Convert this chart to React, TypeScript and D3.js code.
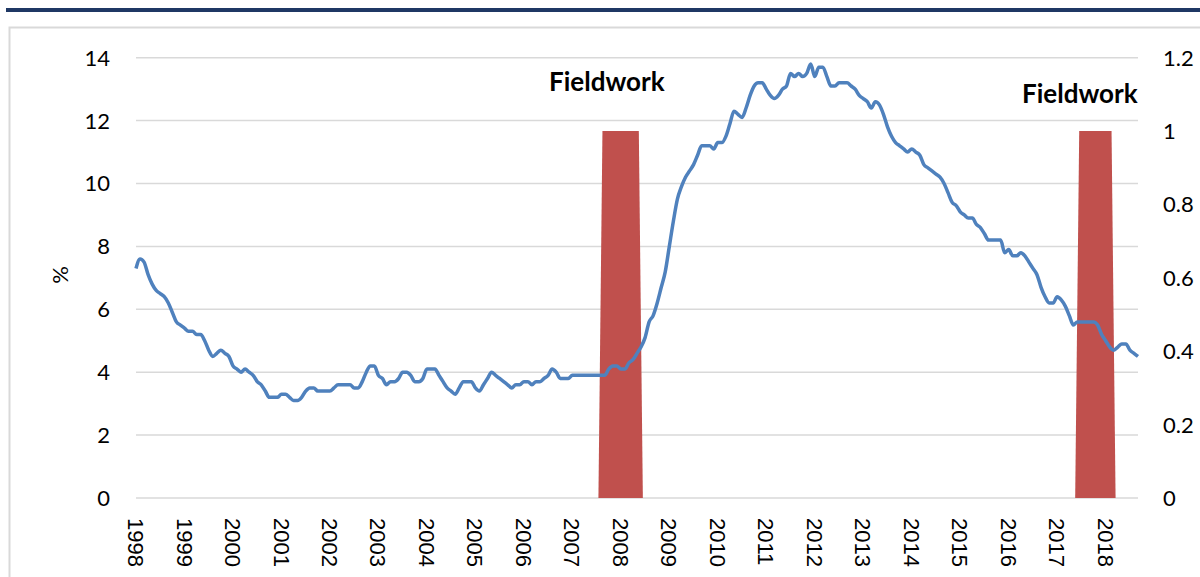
import React from "react";
import * as d3 from "d3";

// Monthly series, starting January 1998 (percent)
const startMonth = "1998-01";
const rateValues: number[] = [
  7.3, 7.6, 7.5, 7.1, 6.8, 6.6, 6.5, 6.4, 6.2, 5.9, 5.6, 5.5,
  5.4, 5.3, 5.3, 5.2, 5.2, 5.0, 4.7, 4.5, 4.6, 4.7, 4.6, 4.5,
  4.2, 4.1, 4.0, 4.1, 4.0, 3.9, 3.7, 3.6, 3.4, 3.2, 3.2, 3.2,
  3.3, 3.3, 3.2, 3.1, 3.1, 3.2, 3.4, 3.5, 3.5, 3.4, 3.4, 3.4,
  3.4, 3.5, 3.6, 3.6, 3.6, 3.6, 3.5, 3.5, 3.7, 4.0, 4.2, 4.2,
  3.9, 3.8, 3.6, 3.7, 3.7, 3.8, 4.0, 4.0, 3.9, 3.7, 3.7, 3.8,
  4.1, 4.1, 4.1, 3.9, 3.7, 3.5, 3.4, 3.3, 3.5, 3.7, 3.7, 3.7,
  3.5, 3.4, 3.6, 3.8, 4.0, 3.9, 3.8, 3.7, 3.6, 3.5, 3.6, 3.6,
  3.7, 3.7, 3.6, 3.7, 3.7, 3.8, 3.9, 4.1, 4.0, 3.8, 3.8, 3.8,
  3.9, 3.9, 3.9, 3.9, 3.9, 3.9, 3.9, 3.9, 3.9, 4.1, 4.2, 4.2,
  4.1, 4.1, 4.3, 4.4, 4.6, 4.8, 5.1, 5.6, 5.8, 6.2, 6.7, 7.2,
  8.0, 8.8, 9.5, 9.9, 10.2, 10.4, 10.6, 10.9, 11.2, 11.2, 11.2, 11.1,
  11.3, 11.3, 11.5, 11.9, 12.3, 12.2, 12.1, 12.4, 12.8, 13.1, 13.2, 13.2,
  13.0, 12.8, 12.7, 12.8, 13.0, 13.1, 13.5, 13.4, 13.5, 13.4, 13.5, 13.8,
  13.4, 13.7, 13.7, 13.4, 13.1, 13.1, 13.2, 13.2, 13.2, 13.1, 13.0, 12.8,
  12.7, 12.6, 12.4, 12.6, 12.5, 12.2, 11.8, 11.5, 11.3, 11.2, 11.1, 11.0,
  11.1, 11.0, 10.9, 10.6, 10.5, 10.4, 10.3, 10.2, 10.0, 9.7, 9.4, 9.3,
  9.1, 9.0, 8.9, 8.9, 8.7, 8.6, 8.4, 8.2, 8.2, 8.2, 8.2, 7.8,
  7.9, 7.7, 7.7, 7.8, 7.7, 7.5, 7.3, 7.1, 6.7, 6.4, 6.2, 6.2,
  6.4, 6.3, 6.1, 5.8, 5.5, 5.6, 5.6, 5.6, 5.6, 5.6, 5.5, 5.2,
  5.0, 4.8, 4.7, 4.8, 4.9, 4.9, 4.7, 4.6, 4.5,
];

// Fieldwork periods (secondary axis, value 1 while in the field)
const fieldworkStarts = ["2007-08", "2017-06"];
const fieldworkEnds = ["2008-05", "2018-02"];
const fieldworkLabels = ["Fieldwork", "Fieldwork"];

const yearLabels: string[] = [
  "1998", "1999", "2000", "2001", "2002", "2003", "2004", "2005", "2006", "2007",
  "2008", "2009", "2010", "2011", "2012", "2013", "2014", "2015", "2016", "2017", "2018",
];
const leftTicks = [0, 2, 4, 6, 8, 10, 12, 14];
const rightTicks = [0, 0.2, 0.4, 0.6, 0.8, 1, 1.2];

function monthIndex(ym: string): number {
  const [y0, m0] = startMonth.split("-").map(Number);
  const [y, m] = ym.split("-").map(Number);
  return (y - y0) * 12 + (m - m0);
}

const LEFT = 136;
const RIGHT = 1138;
const TOP = 57.7;
const BOTTOM = 498;

export default function App() {
  const n = rateValues.length;
  const x = d3.scaleLinear().domain([0, n - 1]).range([LEFT, RIGHT]);
  const yL = d3.scaleLinear().domain([0, 14]).range([BOTTOM, TOP]);
  const yR = d3.scaleLinear().domain([0, 1.2]).range([BOTTOM, TOP]);
  const areaShift = 0.45;

  const line = d3
    .line<number>()
    .x((_, i) => x(i))
    .y((d) => yL(d))
    .curve(d3.curveMonotoneX);

  const areas = fieldworkStarts.map((s, k) => {
    const a = monthIndex(s);
    const b = monthIndex(fieldworkEnds[k]);
    const pts: [number, number][] = [[a - 1, 0]];
    for (let i = a; i <= b; i++) pts.push([i, 1]);
    pts.push([b + 1, 0]);
    const gen = d3
      .area<[number, number]>()
      .x((d) => x(d[0] + areaShift))
      .y0(yR(0))
      .y1((d) => yR(d[1]));
    return gen(pts) as string;
  });

  const labelPos = [
    { x: 549, y: 91 },
    { x: 1022, y: 103 },
  ];

  return (
    <svg
      width={1200}
      height={577}
      style={{ position: "absolute", left: 0, top: 0, background: "#fff" }}
    >
      <rect x={6} y={8} width={1200} height={4} fill="#1F3864" />
      <rect
        x={9.5}
        y={27.5}
        width={1300}
        height={700}
        fill="none"
        stroke="#D9D9D9"
        strokeWidth={2}
      />
      {leftTicks.map((t) => (
        <line
          key={"g" + t}
          x1={LEFT}
          x2={RIGHT}
          y1={yL(t)}
          y2={yL(t)}
          stroke="#D9D9D9"
          strokeWidth={1.5}
        />
      ))}
      {areas.map((d, k) => (
        <path key={"a" + k} d={d} fill="#C0504D" />
      ))}
      <path
        d={line(rateValues) as string}
        fill="none"
        stroke="#4F81BD"
        strokeWidth={3.5}
        strokeLinejoin="round"
      />
      {leftTicks.map((t) => (
        <text
          key={"l" + t}
          x={110}
          y={yL(t)}
          dy="0.36em"
          textAnchor="end"
          fontFamily="Lato, sans-serif"
          fontSize={22}
          fill="#000"
        >
          {t}
        </text>
      ))}
      {rightTicks.map((t) => (
        <text
          key={"r" + t}
          x={1163}
          y={yR(t)}
          dy="0.36em"
          textAnchor="start"
          fontFamily="Lato, sans-serif"
          fontSize={22}
          fill="#000"
        >
          {String(t)}
        </text>
      ))}
      {yearLabels.map((yr) => {
        const cx = x(monthIndex(yr + "-01"));
        return (
          <text
            key={"x" + yr}
            transform={`translate(${cx},518) rotate(90)`}
            dy="0.36em"
            textAnchor="start"
            fontFamily="'Liberation Sans', Arial, sans-serif"
            fontSize={22}
            fill="#000"
          >
            {yr}
          </text>
        );
      })}
      <text
        transform="translate(60,275) rotate(-90)"
        dy="0.36em"
        textAnchor="middle"
        fontFamily="Lato, sans-serif"
        fontSize={22}
        fill="#000"
      >
        %
      </text>
      {fieldworkLabels.map((lab, k) => (
        <text
          key={"f" + k}
          x={labelPos[k].x}
          y={labelPos[k].y}
          fontFamily="Lato, sans-serif"
          fontWeight="bold"
          fontSize={26}
          fill="#000"
        >
          {lab}
        </text>
      ))}
    </svg>
  );
}
